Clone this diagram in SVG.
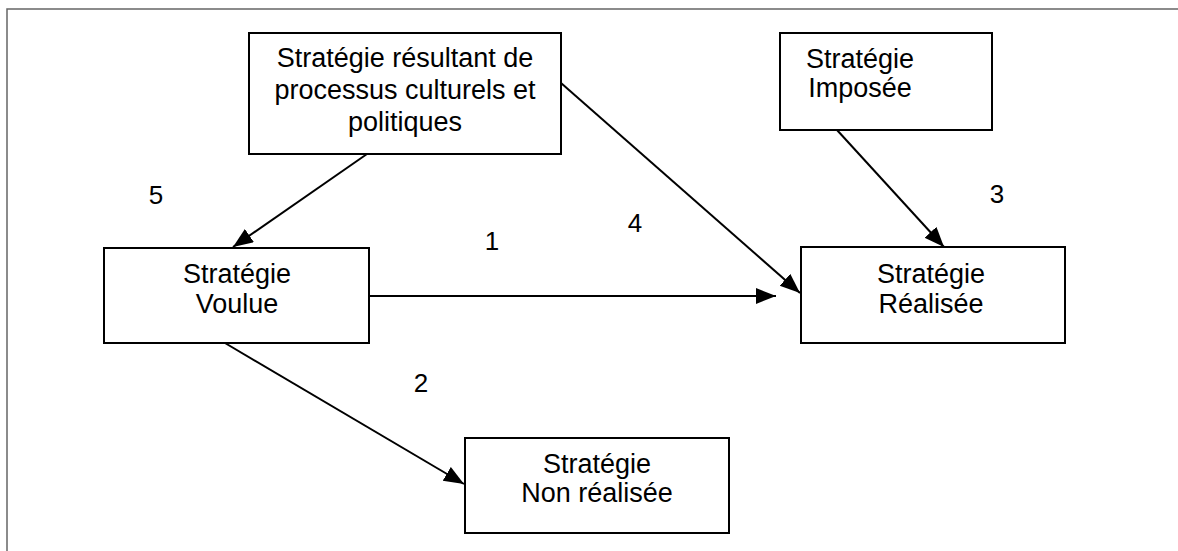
<svg xmlns="http://www.w3.org/2000/svg" width="1178" height="551" viewBox="0 0 1178 551">
  <style>
    .box { fill: #fff; stroke: #000; stroke-width: 2; }
    .lbl { font-family: "Liberation Sans", Arial, sans-serif; font-size: 27px; fill: #000; text-anchor: middle; }
    .num { font-family: "Liberation Sans", Arial, sans-serif; font-size: 26px; fill: #000; text-anchor: middle; }
    .conn { stroke: #000; stroke-width: 2; fill: none; marker-end: url(#arr); }
  </style>
  <defs>
    <marker id="arr" markerUnits="userSpaceOnUse" markerWidth="22" markerHeight="18" refX="20" refY="8" orient="auto">
      <path d="M0,0 L20,8 L0,16 Z" fill="#000"/>
    </marker>
  </defs>
  <rect width="1178" height="551" fill="#fff"/>
  <g id="frame">
    <path d="M7,551 L7,9 L1178,9" fill="none" stroke="#666" stroke-width="1.5"/>
  </g>
  <g id="connectors">
    <line class="conn" x1="367" y1="154" x2="233" y2="247"/>
    <line class="conn" x1="369" y1="296" x2="776" y2="296"/>
    <line class="conn" x1="561" y1="83" x2="800" y2="293"/>
    <line class="conn" x1="837" y1="130" x2="944" y2="247"/>
    <line class="conn" x1="225" y1="343" x2="464" y2="484"/>
  </g>
  <g id="n-culturels">
    <rect class="box" x="249" y="33" width="312" height="121"/>
    <text class="lbl" x="405" y="67">Stratégie résultant de</text>
    <text class="lbl" x="405" y="99">processus culturels et</text>
    <text class="lbl" x="405" y="131">politiques</text>
  </g>
  <g id="n-imposee">
    <rect class="box" x="780" y="33" width="212" height="97"/>
    <text class="lbl" x="860" y="68">Stratégie</text>
    <text class="lbl" x="860" y="97">Imposée</text>
  </g>
  <g id="n-voulue">
    <rect class="box" x="104" y="248" width="265" height="95"/>
    <text class="lbl" x="237" y="283">Stratégie</text>
    <text class="lbl" x="237" y="313">Voulue</text>
  </g>
  <g id="n-realisee">
    <rect class="box" x="801" y="247" width="264" height="96"/>
    <text class="lbl" x="931" y="283">Stratégie</text>
    <text class="lbl" x="931" y="313">Réalisée</text>
  </g>
  <g id="n-nonrealisee">
    <rect class="box" x="465" y="438" width="264" height="95"/>
    <text class="lbl" x="597" y="473">Stratégie</text>
    <text class="lbl" x="597" y="502">Non réalisée</text>
  </g>
  <g id="numbers">
    <text class="num" x="156" y="204">5</text>
    <text class="num" x="492" y="250">1</text>
    <text class="num" x="635" y="232">4</text>
    <text class="num" x="997" y="203">3</text>
    <text class="num" x="421" y="392">2</text>
  </g>
</svg>
